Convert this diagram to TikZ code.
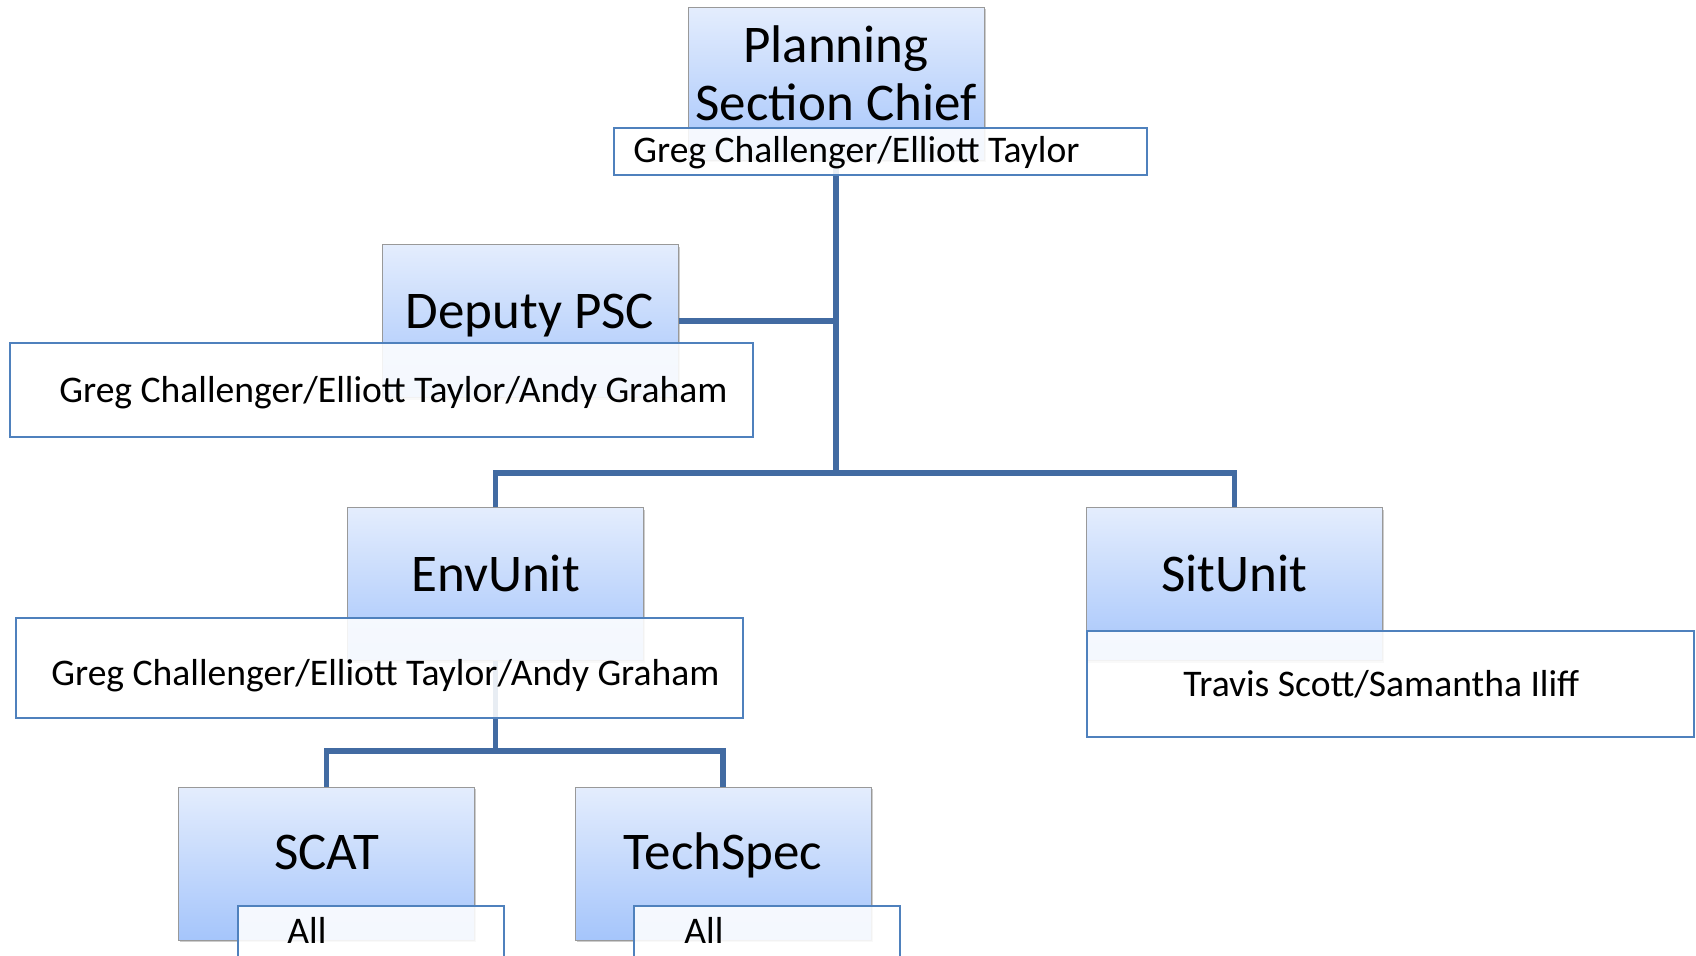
\documentclass[tikz,border=0pt]{standalone}
\usepackage{fontspec}
\setmainfont{Carlito}
\usetikzlibrary{shadows}
\definecolor{linkblue}{RGB}{66,107,162}
\definecolor{nameblue}{RGB}{79,129,189}
\definecolor{boxtop}{RGB}{228,237,253}
\definecolor{boxbot}{RGB}{165,197,251}

\begin{document}
\begin{tikzpicture}[x=0.5pt,y=-0.5pt]
  \tikzstyle{role}=[rectangle,draw=gray!80,line width=0.5pt,top color=boxtop,bottom color=boxbot,
                    minimum width=148pt,minimum height=76.5pt,inner sep=0pt,
                    drop shadow={shadow xshift=0.8pt,shadow yshift=-1.2pt,opacity=0.4}]
  \tikzstyle{names}=[rectangle,draw=nameblue,line width=0.8pt,fill=white,fill opacity=0.88,inner sep=0pt]
  \tikzstyle{link}=[draw=linkblue,line width=2.6pt]
  \tikzstyle{big}=[anchor=base,inner sep=0pt,align=center,font=\fontsize{26.5}{29}\selectfont]
  \tikzstyle{small}=[anchor=base west,inner sep=0pt,font=\fontsize{18.8}{22}\selectfont]

  \useasboundingbox (0,0) rectangle (1696,955);
  \clip (0,0) rectangle (1696,955);

  \node[role] (psc)  at (836,83.5)  {};
  \node[role] (dep)  at (530,321)   {};
  \node[role] (env)  at (495.5,584) {};
  \node[role] (sit)  at (1234.5,584) {};
  \node[role] (scat) at (326.5,863.5) {};
  \node[role] (tech) at (723,863.5) {};

  \coordinate (bar) at (836,473);
  \coordinate (sub) at (495.5,751);
  \draw[link] (psc.south) -- (bar);
  \draw[link] (dep.east) -- (dep.east -| psc.south);
  \draw[link] (env.north) |- (bar) -| (sit.north);
  \draw[link] (env.south) -- (sub);
  \draw[link] (scat.north) |- (sub) -| (tech.north);

  \node[names, minimum width=266.5pt, minimum height=23.5pt] (pscN)  at (880.5,151.5) {};
  \node[names, minimum width=371.5pt, minimum height=47pt]   (depN)  at (381.5,390)   {};
  \node[names, minimum width=363.5pt, minimum height=50pt]   (envN)  at (379.5,668)   {};
  \node[names, minimum width=303.5pt, minimum height=53pt]   (sitN)  at (1390.5,684)  {};
  \node[names, minimum width=133pt,   minimum height=47pt]   (scatN) at (371,953)     {};
  \node[names, minimum width=133pt,   minimum height=47pt]   (techN) at (767,953)     {};

  \node[big] (pscT)  at (836,120)    {Planning\\Section Chief};
  \node[big] (depT)  at (530,328)    {Deputy PSC};
  \node[big] (envT)  at (495.5,591)  {EnvUnit};
  \node[big] (sitT)  at (1234.5,591) {SitUnit};
  \node[big] (scatT) at (326.5,869)  {SCAT};
  \node[big] (techT) at (723,869)    {TechSpec};

  \node[small] (pscP)  at (633,162)  {Greg Challenger/Elliott Taylor};
  \node[small] (depP)  at (59,402)   {Greg Challenger/Elliott Taylor/Andy Graham};
  \node[small] (envP)  at (51,685)   {Greg Challenger/Elliott Taylor/Andy Graham};
  \node[small] (sitP)  at (1183,696) {Travis Scott/Samantha Iliff};
  \node[small] (scatP) at (287,943)  {All};
  \node[small] (techP) at (684,943)  {All};
\end{tikzpicture}
\end{document}
